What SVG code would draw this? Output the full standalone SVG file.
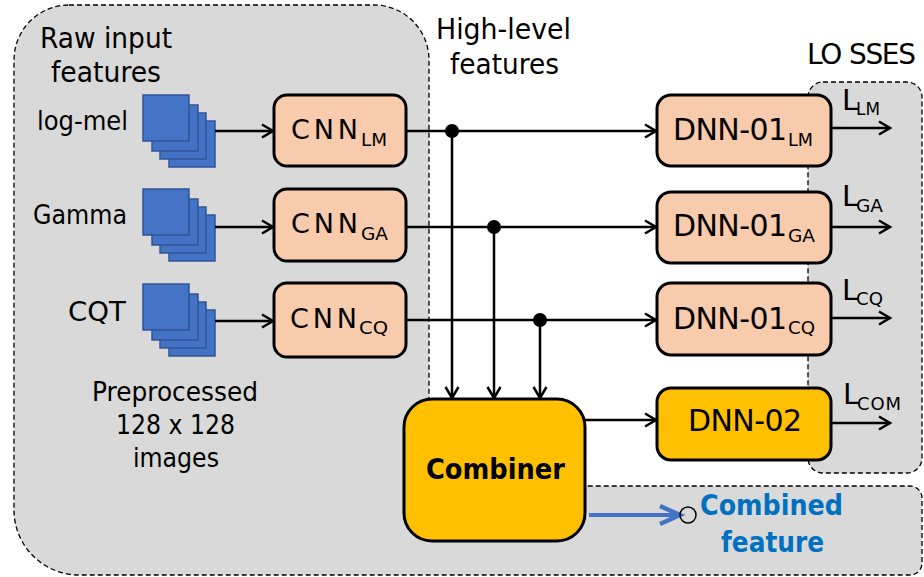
<svg xmlns="http://www.w3.org/2000/svg" width="924" height="577" viewBox="0 0 924 577">
<style>
  text { font-family: "DejaVu Sans", "Liberation Sans", sans-serif; fill: #000; }
  .panel { fill: #D9D9D9; stroke: #000; stroke-width: 1.3; stroke-dasharray: 5 3; }
  .sq { fill: #4472C4; stroke: #2F5597; stroke-width: 1.5; }
  .cnn { fill: #F8CBAD; stroke: #000; stroke-width: 3; }
  .gold { fill: #FFC000; stroke: #000; stroke-width: 3; }
  .wire { fill: none; stroke: #000; stroke-width: 2.5; }
  .arr { marker-end: url(#ah); }
  .lbl { font-size: 27px; }
  .pre { font-size: 26px; }
  .main { font-size: 28px; }
  .cn { font-size: 27px; }
  .dmain { font-size: 30px; }
  .sub { font-size: 18px; }
  .bold { font-weight: bold; }
  .blue { fill: #0070C0; }
</style>
<defs>
  <marker id="ah" markerUnits="userSpaceOnUse" markerWidth="16" markerHeight="16" refX="12" refY="7.5" orient="auto" overflow="visible">
    <path d="M1,1 L12,7.5 L1,14" fill="none" stroke="#000" stroke-width="2.5"/>
  </marker>
  <marker id="ahb" markerUnits="userSpaceOnUse" markerWidth="26" markerHeight="24" refX="22" refY="11" orient="auto" overflow="visible">
    <path d="M2,2 L22,11 L2,20" fill="none" stroke="#4472C4" stroke-width="4.5"/>
  </marker>
</defs>

<g id="panels">
  <path class="panel" d="M69,5 H374 A55,55 0 0 1 429,60 V486 H910 A12,12 0 0 1 922,498 V563 A12,12 0 0 1 910,575 H79 A65,65 0 0 1 14,510 V60 A55,55 0 0 1 69,5 Z"/>
  <path class="panel" d="M823,82 H907 A15,15 0 0 1 922,97 V458 A15,15 0 0 1 907,473 H823 A15,15 0 0 1 808,458 V97 A15,15 0 0 1 823,82 Z"/>
</g>

<g id="titles">
  <text class="main" x="40" y="48" textLength="132" lengthAdjust="spacingAndGlyphs">Raw input</text>
  <text class="main" x="51" y="82" textLength="110" lengthAdjust="spacingAndGlyphs">features</text>
  <text class="main" x="436" y="39" textLength="135" lengthAdjust="spacingAndGlyphs">High-level</text>
  <text class="main" x="450" y="74" textLength="109" lengthAdjust="spacingAndGlyphs">features</text>
  <text class="main" x="807" y="64" textLength="109" lengthAdjust="spacing">LO<tspan dx="8">SSES</tspan></text>
  <text class="pre" x="92" y="401" textLength="166" lengthAdjust="spacingAndGlyphs">Preprocessed</text>
  <text class="pre" x="116" y="434" textLength="119" lengthAdjust="spacingAndGlyphs">128 x 128</text>
  <text class="pre" x="133" y="467" textLength="86" lengthAdjust="spacingAndGlyphs">images</text>
</g>

<g id="input-logmel">
  <text class="lbl" x="37" y="130" textLength="91" lengthAdjust="spacingAndGlyphs">log-mel</text>
  <rect class="sq" x="169" y="121" width="46" height="46"/>
  <rect class="sq" x="160" y="113" width="46" height="46"/>
  <rect class="sq" x="152" y="105" width="46" height="46"/>
  <rect class="sq" x="143" y="95" width="46" height="46"/>
</g>
<g id="input-gamma">
  <text class="lbl" x="33" y="224" textLength="94" lengthAdjust="spacingAndGlyphs">Gamma</text>
  <rect class="sq" x="169" y="215" width="46" height="46"/>
  <rect class="sq" x="160" y="207" width="46" height="46"/>
  <rect class="sq" x="152" y="199" width="46" height="46"/>
  <rect class="sq" x="143" y="189" width="46" height="46"/>
</g>
<g id="input-cqt">
  <text class="lbl" x="68" y="321" textLength="58" lengthAdjust="spacingAndGlyphs">CQT</text>
  <rect class="sq" x="169" y="310" width="46" height="46"/>
  <rect class="sq" x="160" y="302" width="46" height="46"/>
  <rect class="sq" x="152" y="294" width="46" height="46"/>
  <rect class="sq" x="143" y="284" width="46" height="46"/>
</g>

<g id="connectors">
  <path class="wire arr" d="M215,131 H273"/>
  <path class="wire arr" d="M215,227 H273"/>
  <path class="wire arr" d="M215,321 H273"/>
  <path class="wire arr" d="M406,131 H656"/>
  <path class="wire arr" d="M406,227 H656"/>
  <path class="wire arr" d="M406,320 H656"/>
  <path class="wire arr" d="M452,131 V398"/>
  <path class="wire arr" d="M494,227 V398"/>
  <path class="wire arr" d="M540,320 V398"/>
  <circle cx="452" cy="131" r="7" fill="#000"/>
  <circle cx="494" cy="227" r="7" fill="#000"/>
  <circle cx="540" cy="320" r="7" fill="#000"/>
  <path class="wire arr" d="M585,420 H656"/>
  <path class="wire arr" d="M831,128 H890"/>
  <path class="wire arr" d="M831,227 H890"/>
  <path class="wire arr" d="M831,318 H890"/>
  <path class="wire arr" d="M831,423 H890"/>
  <path d="M589,515 H680" fill="none" stroke="#4472C4" stroke-width="4" marker-end="url(#ahb)"/>
  <circle cx="688" cy="515" r="8" fill="none" stroke="#000" stroke-width="1.5"/>
</g>

<g id="cnn-lm">
  <rect class="cnn" x="274" y="95" width="132" height="71" rx="13"/>
  <text class="cn" x="291" y="139" textLength="67" lengthAdjust="spacing">CNN</text>
  <text class="sub" x="361" y="146" textLength="26" lengthAdjust="spacingAndGlyphs">LM</text>
</g>
<g id="cnn-ga">
  <rect class="cnn" x="274" y="189" width="132" height="72" rx="13"/>
  <text class="cn" x="291" y="233" textLength="67" lengthAdjust="spacing">CNN</text>
  <text class="sub" x="361" y="240" textLength="27" lengthAdjust="spacingAndGlyphs">GA</text>
</g>
<g id="cnn-cq">
  <rect class="cnn" x="274" y="283" width="132" height="74" rx="13"/>
  <text class="cn" x="290" y="328" textLength="67" lengthAdjust="spacing">CNN</text>
  <text class="sub" x="359" y="334" textLength="29" lengthAdjust="spacingAndGlyphs">CQ</text>
</g>

<g id="dnn01-lm">
  <rect class="cnn" x="657" y="95" width="174" height="71" rx="14"/>
  <text class="dmain" x="673" y="140" textLength="114" lengthAdjust="spacing">DNN-01</text>
  <text class="sub" x="788" y="146" textLength="25" lengthAdjust="spacingAndGlyphs">LM</text>
</g>
<g id="dnn01-ga">
  <rect class="cnn" x="657" y="192" width="174" height="71" rx="14"/>
  <text class="dmain" x="673" y="236" textLength="114" lengthAdjust="spacing">DNN-01</text>
  <text class="sub" x="788" y="242" textLength="27" lengthAdjust="spacingAndGlyphs">GA</text>
</g>
<g id="dnn01-cq">
  <rect class="cnn" x="657" y="283" width="174" height="72" rx="14"/>
  <text class="dmain" x="673" y="329" textLength="114" lengthAdjust="spacing">DNN-01</text>
  <text class="sub" x="788" y="334" textLength="27" lengthAdjust="spacingAndGlyphs">CQ</text>
</g>
<g id="dnn02">
  <rect class="gold" x="657" y="388" width="174" height="72" rx="14"/>
  <text class="dmain" x="688" y="431" textLength="114" lengthAdjust="spacing">DNN-02</text>
</g>

<g id="combiner">
  <rect class="gold" x="404" y="399" width="181" height="142" rx="28"/>
  <text class="bold" font-size="29" x="426" y="479" textLength="139" lengthAdjust="spacingAndGlyphs">Combiner</text>
</g>

<g id="losses">
  <text x="842" y="110" font-size="29">L</text>
  <text class="sub" x="856" y="115" textLength="24" lengthAdjust="spacingAndGlyphs">LM</text>
  <text x="842" y="206" font-size="29">L</text>
  <text class="sub" x="856" y="212" textLength="27" lengthAdjust="spacingAndGlyphs">GA</text>
  <text x="842" y="300" font-size="29">L</text>
  <text class="sub" x="856" y="305" textLength="27" lengthAdjust="spacingAndGlyphs">CQ</text>
  <text x="843" y="404" font-size="29">L</text>
  <text class="sub" x="857" y="410" textLength="44" lengthAdjust="spacing">COM</text>
</g>

<g id="combined-feature">
  <text class="bold blue" font-size="28" x="700" y="515" textLength="143" lengthAdjust="spacingAndGlyphs">Combined</text>
  <text class="bold blue" font-size="28" x="721" y="552" textLength="103" lengthAdjust="spacingAndGlyphs">feature</text>
</g>
</svg>
